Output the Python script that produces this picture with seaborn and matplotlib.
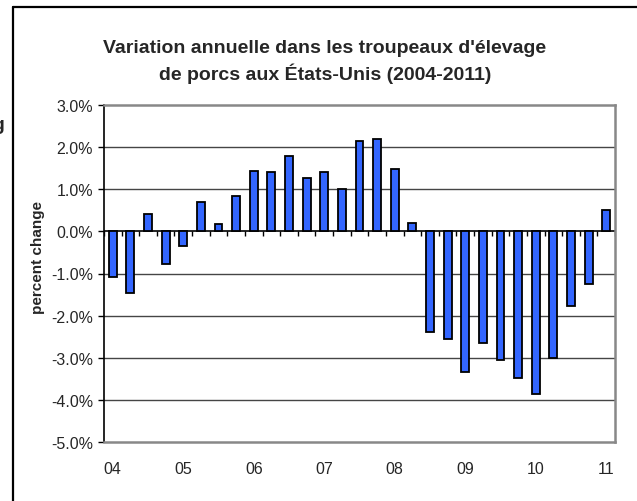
import numpy as np
import pandas as pd
import matplotlib
matplotlib.use("Agg")
import matplotlib.pyplot as plt
import seaborn as sns
from matplotlib.lines import Line2D

# quarterly year-over-year change in US hog inventory, 2004Q1 .. 2011Q1 (percent)
quarters = [
    "04Q1", "04Q2", "04Q3", "04Q4",
    "05Q1", "05Q2", "05Q3", "05Q4",
    "06Q1", "06Q2", "06Q3", "06Q4",
    "07Q1", "07Q2", "07Q3", "07Q4",
    "08Q1", "08Q2", "08Q3", "08Q4",
    "09Q1", "09Q2", "09Q3", "09Q4",
    "10Q1", "10Q2", "10Q3", "10Q4",
    "11Q1",
]
pct_change = [
    -1.08, -1.47, 0.42, -0.78,
    -0.35, 0.69, 0.18, 0.84,
    1.43, 1.40, 1.80, 1.27,
    1.42, 1.01, 2.15, 2.20,
    1.49, 0.20, -2.38, -2.56,
    -3.35, -2.65, -3.06, -3.49,
    -3.87, -3.01, -1.78, -1.24,
    0.50,
]
year_labels = ["04", "05", "06", "07", "08", "09", "10", "11"]
y_ticks = [3, 2, 1, 0, -1, -2, -3, -4, -5]

df = pd.DataFrame({"quarter": quarters, "change": pct_change})

sns.set_theme(style="white")
plt.rcParams["font.family"] = ["Liberation Sans", "DejaVu Sans"]

W, H = 637, 502
fig = plt.figure(figsize=(W / 100, H / 100), dpi=100)
ax = fig.add_axes([104 / W, 1 - 443 / H, (615 - 104) / W, (443 - 106) / H])

sns.barplot(data=df, x="quarter", y="change", order=quarters, color="#3366FF",
            saturation=1, width=0.45, edgecolor="black", linewidth=1.3, ax=ax,
            zorder=3)

ax.set_ylim(-5, 3)
ax.set_xlim(-0.5, len(quarters) - 0.5)
ax.set_yticks(y_ticks)
ax.set_yticklabels([f"{v:.1f}%" for v in y_ticks])

for v in y_ticks:
    if v == 0:
        ax.axhline(0, color="black", linewidth=1.2, zorder=2)
    elif v not in (3, -5):
        ax.axhline(v, color="#454545", linewidth=1.0, zorder=1)

# category tick marks along the zero line
for k in range(len(quarters) + 1):
    ax.plot([k - 0.5, k - 0.5], [0, -0.1], color="black", linewidth=1.0,
            zorder=2, solid_capstyle="butt")

ax.set_xticks([quarters.index(y + "Q1") for y in year_labels])
ax.set_xticklabels(year_labels)
ax.tick_params(axis="x", length=0, pad=14, labelsize=11.5)
ax.tick_params(axis="y", length=4, width=1, direction="out", pad=4,
               labelsize=11.5, color="black", left=True)
ax.set_xlabel("")
ax.set_ylabel("")

for side in ["top", "right", "bottom"]:
    ax.spines[side].set_color("#888888")
    ax.spines[side].set_linewidth(1.8)
ax.spines["left"].set_color("black")
ax.spines["left"].set_linewidth(1.2)

fig.text(38 / W, 1 - 258 / H, "percent change", rotation=90, ha="center",
         va="center", fontsize=11, fontweight="bold")
fig.text(325 / W, 1 - 62 / H,
         "Variation annuelle dans les troupeaux d'élevage\nde porcs aux États-Unis (2004-2011)",
         ha="center", va="center", fontsize=14, fontweight="bold", linespacing=1.35)

# outer chart frame (cropped on the right and bottom)
fig.add_artist(Line2D([13 / W, 1], [1 - 8 / H, 1 - 8 / H], color="black",
                      linewidth=1.6, transform=fig.transFigure))
fig.add_artist(Line2D([13 / W, 13 / W], [0, 1 - 8 / H], color="black",
                      linewidth=1.6, transform=fig.transFigure))
fig.text(4 / W, 1 - 125 / H, "g", ha="right", va="center", fontsize=14,
         fontweight="bold")

fig.savefig("out.png", dpi=100)
